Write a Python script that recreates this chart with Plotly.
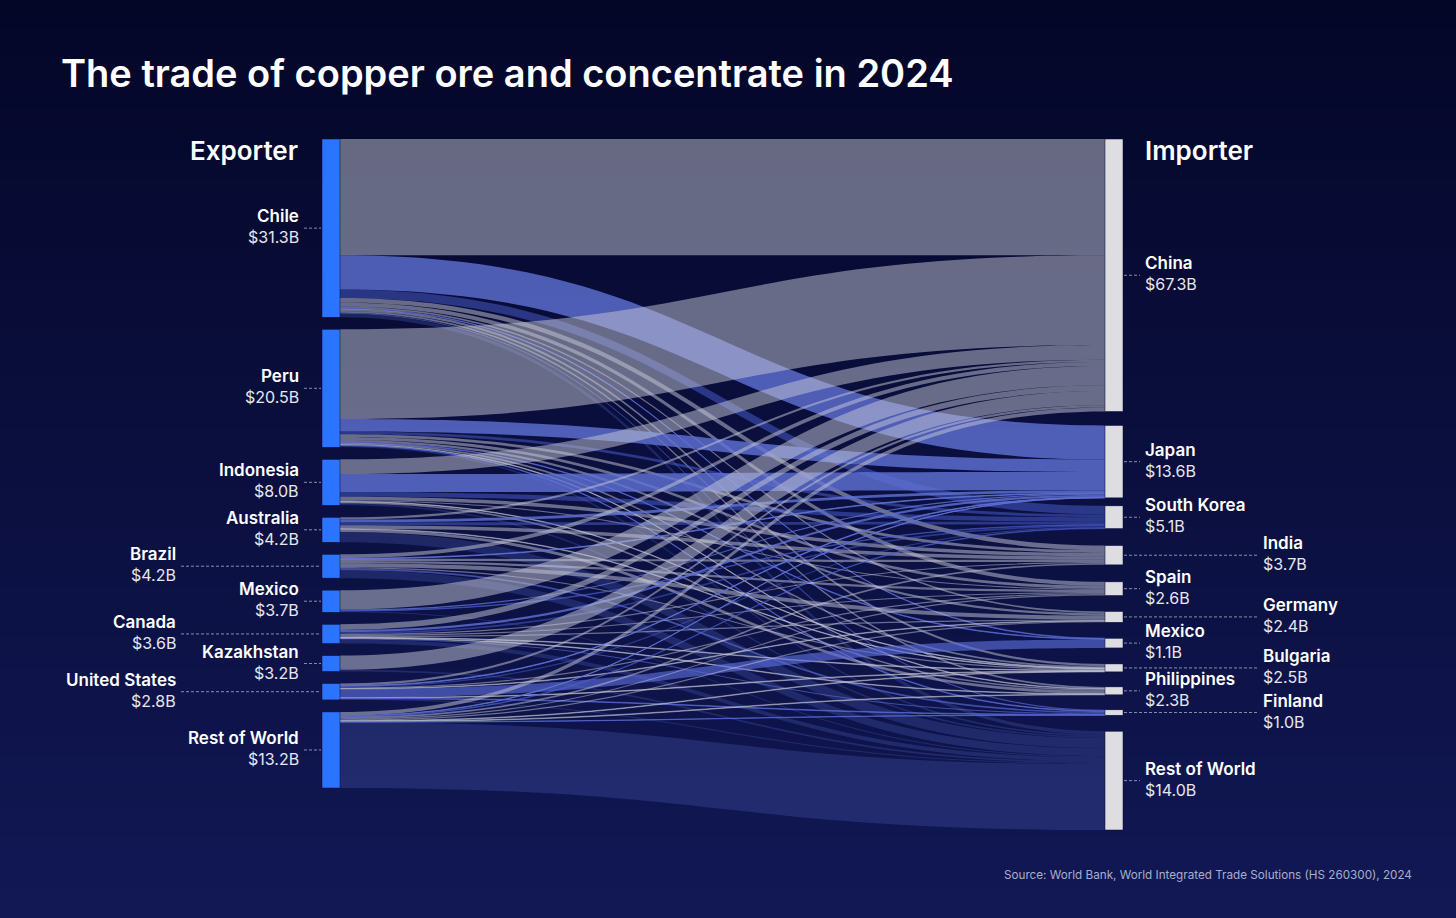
import plotly.graph_objects as go

# --- data ($ billions) ---
exporters = ["Chile", "Peru", "Indonesia", "Australia", "Brazil", "Mexico",
             "Canada", "Kazakhstan", "United States", "Rest of World"]
exporter_totals = ["$31.3B", "$20.5B", "$8.0B", "$4.2B", "$4.2B", "$3.7B",
                   "$3.6B", "$3.2B", "$2.8B", "$13.2B"]

importers = ["China", "Japan", "South Korea", "India", "Spain", "Germany",
             "Mexico", "Bulgaria", "Philippines", "Finland", "Rest of World"]
importer_totals = ["$67.3B", "$13.6B", "$5.1B", "$3.7B", "$2.6B", "$2.4B",
                   "$1.1B", "$2.5B", "$2.3B", "$1.0B", "$14.0B"]

# flows per exporter, columns follow the importer order above
chile = [20.5, 6.0, 1.5, 0.8, 0.7, 0.3, 0.1, 0.4, 0.3, 0.2, 0.6]
peru = [15.8, 2.2, 0.5, 0.5, 0.5, 0.4, 0.1, 0.3, 0.1, 0.1, 0.3]
indonesia = [2.6, 3.2, 0.8, 0.6, 0.2, 0.0, 0.0, 0.1, 0.3, 0.0, 0.3]
australia = [0.4, 0.5, 0.5, 0.6, 0.0, 0.0, 0.0, 0.1, 0.5, 0.0, 1.8]
brazil = [0.7, 0.1, 0.0, 0.4, 0.4, 0.7, 0.0, 0.2, 0.0, 0.3, 1.4]
mexico = [3.4, 0.2, 0.1, 0.0, 0.0, 0.0, 0.0, 0.0, 0.0, 0.0, 0.2]
canada = [1.0, 0.4, 0.3, 0.2, 0.2, 0.2, 0.0, 0.1, 0.1, 0.2, 0.7]
kazakhstan = [2.5, 0.0, 0.0, 0.0, 0.0, 0.0, 0.0, 0.0, 0.0, 0.0, 0.3]
united_states = [0.4, 0.1, 0.2, 0.0, 0.2, 0.1, 1.5, 0.1, 0.0, 0.1, 0.2]
rest_of_world = [0.7, 0.05, 0.1, 0.3, 0.2, 0.2, 0.0, 0.1, 0.1, 0.05, 11.6]

flows = [chile, peru, indonesia, australia, brazil, mexico,
         canada, kazakhstan, united_states, rest_of_world]

# --- styling / layout constants ---
W, H = 1456, 918
X_LEFT, X_RIGHT = 322, 1123       # sankey domain in px
Y_TOP, Y_BOT = 139, 830
THICK = 18
GAP_LEFT = 12
RIGHT_GAPS = [14, 8, 17, 17, 16, 16, 16, 15, 15, 16]
PAD_RIGHT = sum(RIGHT_GAPS) / len(RIGHT_GAPS)
BG = "#04062a"

GREY = "rgba(200,202,216,0.50)"
BLUE = "rgba(96,114,212,0.80)"
BLUE_DIM = "rgba(76,96,210,0.50)"
BLUE_MEX = "rgba(90,108,215,0.65)"
ROW_COL = "rgba(62,78,160,0.38)"
target_colors = [GREY, BLUE, BLUE_DIM, GREY, GREY, GREY, BLUE_MEX,
                 GREY, GREY, BLUE_MEX, ROW_COL]

# labels pushed further out to avoid overlapping
left_far = [False, False, False, False, True, False, True, False, True, False]
right_far = [False, False, False, True, False, True, False, True, False, True, False]

n_exp = len(exporters)
sources, targets, values, colors = [], [], [], []
for i, row in enumerate(flows):
    for j, v in enumerate(row):
        if v > 0:
            sources.append(i)
            targets.append(n_exp + j)
            values.append(v)
            colors.append(target_colors[j])

exp_sizes = [sum(r) for r in flows]
imp_sizes = [sum(r[j] for r in flows) for j in range(len(importers))]
total = sum(values)

dom_w = X_RIGHT - X_LEFT
dom_h = Y_BOT - Y_TOP
ky = (dom_h - (len(importers) - 1) * PAD_RIGHT) / total


def centers(sizes, gaps):
    out, top = [], 0.0
    for k, s in enumerate(sizes):
        out.append(top + s * ky / 2)
        top += s * ky + (gaps[k] if k < len(gaps) else 0)
    return out


left_c = centers(exp_sizes, [GAP_LEFT] * (n_exp - 1))
right_c = centers(imp_sizes, RIGHT_GAPS)

node_x = [THICK / 2 / dom_w] * n_exp + [1 - THICK / 2 / dom_w] * len(importers)
node_y = [c / dom_h for c in left_c] + [c / dom_h for c in right_c]
node_colors = ["#2b74ff"] * n_exp + ["#dedee2"] * len(importers)

fig = go.Figure(go.Sankey(
    arrangement="fixed",
    domain=dict(x=[X_LEFT / W, X_RIGHT / W], y=[1 - Y_BOT / H, 1 - Y_TOP / H]),
    node=dict(
        label=exporters + importers,
        x=node_x, y=node_y,
        pad=PAD_RIGHT, thickness=THICK,
        color=node_colors,
        line=dict(color="#070b33", width=0.5),
        hovertemplate="%{label}: $%{value:.1f}B<extra></extra>",
    ),
    link=dict(source=sources, target=targets, value=values, color=colors,
              hovertemplate="%{source.label} → %{target.label}: $%{value:.1f}B<extra></extra>"),
    textfont=dict(size=1, color="rgba(0,0,0,0)"),
))

# background gradient
shapes = []
steps = 92
top_rgb, bot_rgb = (4, 6, 40), (17, 24, 84)
for k in range(steps):
    t = k / (steps - 1)
    c = tuple(round(top_rgb[m] + (bot_rgb[m] - top_rgb[m]) * t) for m in range(3))
    shapes.append(dict(type="rect", xref="paper", yref="paper", layer="below",
                       x0=0, x1=1, y0=1 - (k + 1) / steps, y1=1 - k / steps + 0.002,
                       fillcolor="rgb(%d,%d,%d)" % c, line=dict(width=0)))

annotations = []
FONT = "Inter, Noto Sans, sans-serif"
DASH_COL = "rgba(190,195,220,0.7)"


def add_label(name, total_txt, y_px, x_px, anchor):
    yp = 1 - y_px / H
    annotations.append(dict(x=x_px / W, y=yp, xref="paper", yref="paper",
                            text=name, showarrow=False, xanchor=anchor, yanchor="bottom",
                            font=dict(family=FONT, size=17, color="white", weight=600)))
    annotations.append(dict(x=x_px / W, y=yp, xref="paper", yref="paper", yshift=3,
                            text=total_txt, showarrow=False, xanchor=anchor, yanchor="top",
                            font=dict(family=FONT, size=16, color="#e6e7ef")))


for i, name in enumerate(exporters):
    y_px = Y_TOP + left_c[i]
    tx = 178 if left_far[i] else 301
    add_label(name, exporter_totals[i], y_px, tx, "right")
    shapes.append(dict(type="line", xref="paper", yref="paper",
                       x0=(tx + 3) / W, x1=(X_LEFT - 1) / W, y0=1 - y_px / H, y1=1 - y_px / H,
                       line=dict(color=DASH_COL, width=1, dash="3px,2px")))

for j, name in enumerate(importers):
    y_px = Y_TOP + right_c[j]
    tx = 1261 if right_far[j] else 1143
    add_label(name, importer_totals[j], y_px, tx, "left")
    shapes.append(dict(type="line", xref="paper", yref="paper",
                       x0=(X_RIGHT + 1) / W, x1=(tx - 3) / W, y0=1 - y_px / H, y1=1 - y_px / H,
                       line=dict(color=DASH_COL, width=1, dash="3px,2px")))

annotations.append(dict(x=300 / W, y=1 - 151 / H, xref="paper", yref="paper",
                        text="Exporter", showarrow=False, xanchor="right", yanchor="middle",
                        font=dict(family=FONT, size=26, color="white", weight=600)))
annotations.append(dict(x=1143 / W, y=1 - 151 / H, xref="paper", yref="paper",
                        text="Importer", showarrow=False, xanchor="left", yanchor="middle",
                        font=dict(family=FONT, size=26, color="white", weight=600)))
annotations.append(dict(x=59 / W, y=1 - 73 / H, xref="paper", yref="paper",
                        text="The trade of copper ore and concentrate in 2024",
                        showarrow=False, xanchor="left", yanchor="middle",
                        font=dict(family=FONT, size=38, color="white", weight=600)))
annotations.append(dict(x=1414 / W, y=1 - 875 / H, xref="paper", yref="paper",
                        text="Source: World Bank, World Integrated Trade Solutions (HS 260300), 2024",
                        showarrow=False, xanchor="right", yanchor="middle",
                        font=dict(family=FONT, size=11.7, color="#a9aecb")))

fig.update_layout(
    width=W, height=H,
    margin=dict(l=0, r=0, t=0, b=0),
    paper_bgcolor=BG,
    plot_bgcolor=BG,
    shapes=shapes,
    annotations=annotations,
    font=dict(family=FONT, color="white"),
)

fig.write_html(
    "out.html",
    config={"displayModeBar": False},
    post_script="document.body.style.margin='0';document.body.style.background='%s';"
                "document.body.style.overflow='hidden';" % BG,
)
